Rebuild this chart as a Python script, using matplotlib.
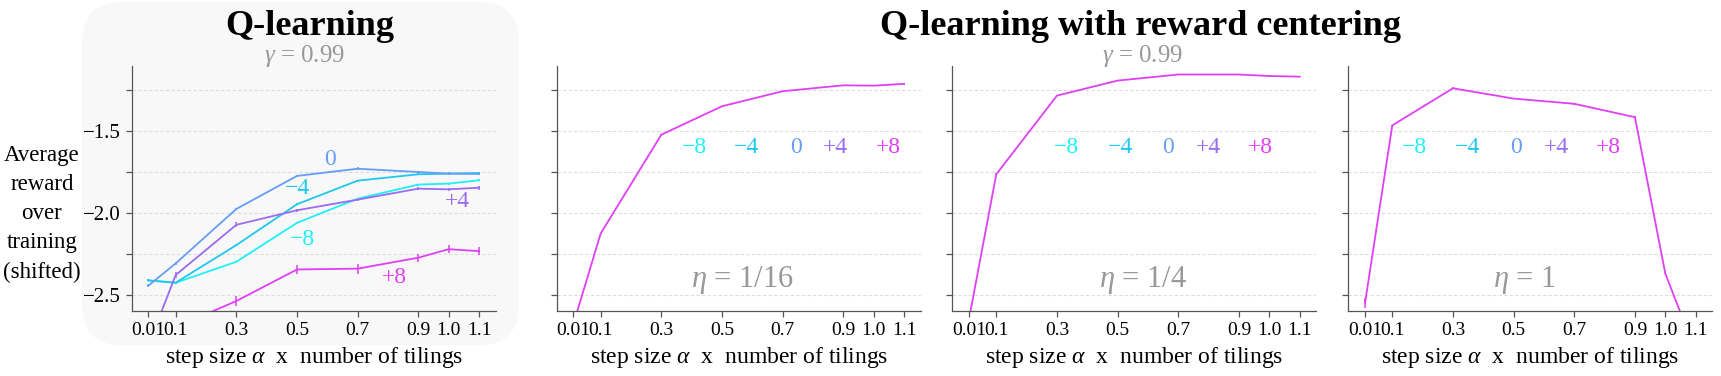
import matplotlib
matplotlib.use("Agg")
import matplotlib.pyplot as plt
import matplotlib.patches as mpatches
from matplotlib.transforms import IdentityTransform, ScaledTranslation
import numpy as np

plt.rcParams['font.family'] = ['Liberation Serif', 'DejaVu Serif']
plt.rcParams['mathtext.fontset'] = 'custom'
plt.rcParams['mathtext.rm'] = 'Liberation Serif'
plt.rcParams['mathtext.it'] = 'Liberation Serif:italic'
plt.rcParams['axes.unicode_minus'] = True

# ---------------- data ----------------
step_sizes = [0.01, 0.1, 0.3, 0.5, 0.7, 0.9, 1.0, 1.1]
xtick_labels = ["0.01", "0.1", "0.3", "0.5", "0.7", "0.9", "1.0", "1.1"]
offsets = ["\u22128", "\u22124", "0", "+4", "+8"]

# Q-learning (gamma = 0.99), one curve per reward offset
q_m8 = [-2.413, -2.427, -2.299, -2.061, -1.913, -1.827, -1.821, -1.801]
q_m4 = [-2.413, -2.427, -2.197, -1.947, -1.803, -1.764, -1.760, -1.756]
q_0 = [-2.445, -2.309, -1.976, -1.774, -1.730, -1.750, -1.760, -1.762]
q_p4 = [-2.810, -2.380, -2.073, -1.984, -1.919, -1.852, -1.856, -1.846]
q_p8 = [-2.950, -2.700, -2.539, -2.346, -2.341, -2.274, -2.222, -2.234]
q_err_m8 = [0.006, 0.006, 0.006, 0.006, 0.006, 0.006, 0.006, 0.006]
q_err_m4 = [0.006, 0.006, 0.006, 0.006, 0.006, 0.006, 0.006, 0.006]
q_err_0 = [0.008, 0.008, 0.008, 0.008, 0.008, 0.008, 0.008, 0.008]
q_err_p4 = [0.015, 0.02, 0.015, 0.01, 0.01, 0.01, 0.01, 0.012]
q_err_p8 = [0.03, 0.03, 0.03, 0.03, 0.03, 0.025, 0.025, 0.025]

# Q-learning with reward centering (all offsets overlap)
rc_eta16 = [-2.680, -2.126, -1.522, -1.348, -1.256, -1.220, -1.222, -1.211]
rc_eta4 = [-2.650, -1.764, -1.283, -1.191, -1.154, -1.154, -1.163, -1.167]
rc_eta1 = [-2.553, -1.465, -1.238, -1.301, -1.333, -1.415, -2.370, -2.850]
rc_err_eta16 = [0.005, 0.005, 0.005, 0.004, 0.004, 0.004, 0.004, 0.004]
rc_err_eta4 = [0.005, 0.005, 0.004, 0.004, 0.004, 0.004, 0.004, 0.004]
rc_err_eta1 = [0.03, 0.005, 0.005, 0.005, 0.005, 0.005, 0.005, 0.005]
eta_labels = ["$\\eta$ = 1/16", "$\\eta$ = 1/4", "$\\eta$ = 1"]

# ---------------- style ----------------
colors = {"\u22128": "#1ef0f8", "\u22124": "#1fc8ec", "0": "#669df6",
          "+4": "#9a6cf0", "+8": "#e040f4"}
gray_txt = "#999999"
spine_c = "#555555"

W, H = 1721, 376
fig = plt.figure(figsize=(W / 100, H / 100), dpi=100)
fig.patch.set_facecolor("white")

# rounded background box behind the Q-learning panel (pixel coordinates)
r = 40
bx0, bx1, by_top, by_bot = 82, 519, 2, 345
box = mpatches.FancyBboxPatch((bx0 + r, H - by_bot + r), (bx1 - bx0) - 2 * r,
                              (by_bot - by_top) - 2 * r,
                              boxstyle=f"round,pad={r}", transform=IdentityTransform(),
                              facecolor="#f8f8f8", edgecolor="none", zorder=-10)
fig.patches.append(box)

lefts_px = [131.7, 556.7, 952.3, 1348.3]
width_px = 364
bottom_px, top_px = 311, 65.7
axes = []
for lp in lefts_px:
    ax = fig.add_axes([lp / W, (H - bottom_px) / H, width_px / W, (bottom_px - top_px) / H])
    axes.append(ax)

yticks = [-2.5, -2.25, -2.0, -1.75, -1.5, -1.25]
label_shift_px = [-6, 4, 0, 0, 0, 0, -2, 2]
for i, ax in enumerate(axes):
    ax.set_facecolor("none")
    ax.set_xlim(-0.045, 1.155)
    ax.set_ylim(-2.6, -1.1)
    for s in ["top", "right"]:
        ax.spines[s].set_visible(False)
    for s in ["left", "bottom"]:
        ax.spines[s].set_color(spine_c)
        ax.spines[s].set_linewidth(0.9)
    ax.set_xticks(step_sizes)
    ax.set_xticklabels(xtick_labels, fontsize=14)
    for lab, dx in zip(ax.get_xticklabels(), label_shift_px):
        lab.set_transform(lab.get_transform() + ScaledTranslation(dx / 100, 0, fig.dpi_scale_trans))
    ax.set_yticks(yticks)
    if i == 0:
        ax.set_yticklabels(["\u22122.5", "", "\u22122.0", "", "\u22121.5", ""], fontsize=15)
    else:
        ax.set_yticklabels([])
    ax.tick_params(axis="both", direction="out", length=4, width=0.9, color=spine_c,
                   pad=4)
    ax.grid(axis="y", color="#dddddd", linestyle=(0, (3, 2)), linewidth=0.8)
    ax.set_axisbelow(True)
    ax.set_xlabel("step size $\\alpha$  x  number of tilings", fontsize=17, labelpad=4)

# panel 1: Q-learning curves
ax = axes[0]
series = [("\u22128", q_m8, q_err_m8), ("\u22124", q_m4, q_err_m4), ("0", q_0, q_err_0),
          ("+4", q_p4, q_err_p4), ("+8", q_p8, q_err_p8)]
for name, vals, err in series:
    ax.errorbar(step_sizes, vals, yerr=err, color=colors[name], lw=1.3, elinewidth=1.1,
                capsize=0, clip_on=True)
label_pos = {"0": (0.609, -1.675), "\u22124": (0.502, -1.852), "+4": (1.03, -1.933),
             "\u22128": (0.519, -2.163), "+8": (0.82, -2.396)}
for name, (lx, ly) in label_pos.items():
    ax.text(lx, ly, name, color=colors[name], fontsize=17, ha="center", va="center")

# panels 2-4: reward centering
rc_data = [(rc_eta16, rc_err_eta16), (rc_eta4, rc_err_eta4), (rc_eta1, rc_err_eta1)]
label_xs = [[0.408, 0.581, 0.743, 0.874, 1.047],
            [0.332, 0.508, 0.667, 0.799, 0.972],
            [0.173, 0.348, 0.509, 0.641, 0.813]]
eta_xs = [0.567, 0.585, 0.535]
for k in range(3):
    ax = axes[k + 1]
    vals, err = rc_data[k]
    ax.errorbar(step_sizes, vals, yerr=err, color=colors["+8"], lw=1.3, elinewidth=1.1,
                capsize=0)
    for name, lx in zip(offsets, label_xs[k]):
        ax.text(lx, -1.598, name, color=colors[name], fontsize=17, ha="center", va="center")
    ax.text(eta_xs[k], -2.455, eta_labels[k], color=gray_txt, fontsize=22,
            ha="center", va="baseline")

# titles and annotations
fig.text(310 / W, 1 - 35 / H, "Q-learning", fontsize=26, fontweight="bold",
         ha="center", va="baseline")
fig.text(1140 / W, 1 - 35 / H, "Q-learning with reward centering", fontsize=26,
         fontweight="bold", ha="center", va="baseline")
fig.text(305 / W, 1 - 62 / H, "$\\gamma$ = 0.99", fontsize=18, color=gray_txt,
         ha="center", va="baseline")
fig.text(1143 / W, 1 - 62 / H, "$\\gamma$ = 0.99", fontsize=18, color=gray_txt,
         ha="center", va="baseline")
fig.text(42 / W, 1 - 214 / H, "Average\nreward\nover\ntraining\n(shifted)", fontsize=16.5,
         ha="center", va="center", linespacing=1.5)

fig.savefig("out.png", dpi=100)
